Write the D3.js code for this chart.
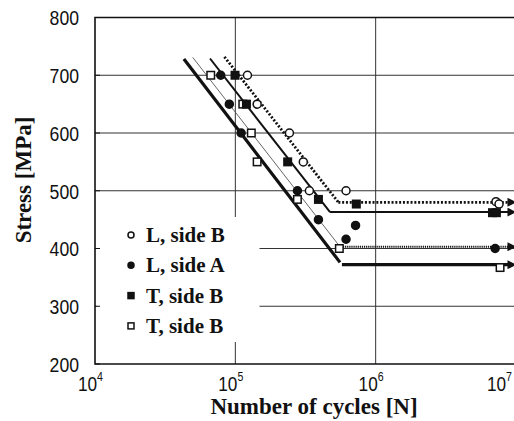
<html>
<head>
  <script src="https://d3js.org/d3.v7.min.js"></script>
  <style>
    body { margin: 0; background: white; }
    .tick-label { font-family: "Liberation Sans", Arial, sans-serif; font-size: 21px; fill: #111; }
    .axis-title { font-family: "Liberation Serif", "Times New Roman", serif; font-size: 23px; font-weight: bold; fill: #111; }
    .legend-text { font-family: "Liberation Serif", "Times New Roman", serif; font-size: 21px; font-weight: bold; fill: #111; }
  </style>
</head>
<body>
  <svg id="chart" width="514" height="421"></svg>
  <script>
    // series names (legend, as printed in the figure)
    const seriesNames = ["L, side B", "L, side A", "T, side B", "T, side B"];
    const seriesMarks = ["openCircle", "filledCircle", "filledSquare", "openSquare"];

    // measured points: number of cycles and stress [MPa]
    const lsbN = [1.22e5, 1.43e5, 2.43e5, 3.05e5, 3.37e5, 6.15e5, 7.2e6, 7.57e6];
    const lsbS = [700, 650, 600, 550, 500, 500, 481, 477];
    const lsaN = [7.87e4, 9.06e4, 1.1e5, 2.77e5, 3.91e5, 7.19e5, 6.15e5, 7.1e6];
    const lsaS = [700, 650, 600, 500, 450, 440, 416, 400];
    const tsbFilledN = [9.95e4, 1.2e5, 2.36e5, 3.91e5, 7.28e5, 6.8e6, 7.25e6];
    const tsbFilledS = [700, 650, 550, 485, 477, 462, 462];
    const tsbOpenN = [6.68e4, 1.13e5, 1.3e5, 1.43e5, 2.77e5, 5.51e5, 7.7e6];
    const tsbOpenS = [700, 650, 600, 550, 485, 400, 367];

    // S-N fit lines: sloped part start, knee, and fatigue limit (run-out to the right)
    const fitStartN = [8.36e4, 6.6e4, 4.97e4, 4.3e4];
    const fitStartS = [732, 729, 731, 728];
    const kneeN = [5.42e5, 4.73e5, 5.57e5, 5.57e5];
    const kneeS = [480, 463, 403, 376];
    const limitStartN = [5.42e5, 4.73e5, 5.65e5, 5.75e5];
    const limitS = [480, 463, 403, 372];
    const runoutN = 9.0e6;

    // axes
    const xTicks = [1e4, 1e5, 1e6, 1e7];
    const xExps = ["4", "5", "6", "7"];
    const yTicks = [200, 300, 400, 500, 600, 700, 800];

    const svg = d3.select("#chart");
    const x = d3.scaleLog().domain([1e4, 1e7]).range([95, 516]);
    const y = d3.scaleLinear().domain([200, 800]).range([364, 17.5]);

    // arrow head for run-out lines
    svg.append("defs").append("marker")
      .attr("id", "arrow")
      .attr("viewBox", "0 0 10 10")
      .attr("refX", 9).attr("refY", 5)
      .attr("markerUnits", "userSpaceOnUse")
      .attr("markerWidth", 9).attr("markerHeight", 9)
      .attr("orient", "auto")
      .append("path")
      .attr("d", "M0,0 L10,5 L0,10 Z")
      .attr("fill", "#111");

    // grid
    const grid = svg.append("g");
    grid.selectAll("line.h")
      .data(yTicks.filter(d => d > 200 && d < 800))
      .enter().append("line")
      .attr("x1", x(1e4)).attr("x2", 514)
      .attr("y1", d => y(d)).attr("y2", d => y(d))
      .attr("stroke", "#333").attr("stroke-width", 1);
    grid.selectAll("line.v")
      .data([1e5, 1e6])
      .enter().append("line")
      .attr("x1", d => x(d)).attr("x2", d => x(d))
      .attr("y1", y(800)).attr("y2", y(200))
      .attr("stroke", "#333").attr("stroke-width", 1);

    // frame
    svg.append("path")
      .attr("d", `M514,${y(800)} H${x(1e4)} V${y(200)} H514`)
      .attr("fill", "none").attr("stroke", "#111").attr("stroke-width", 1.6);

    // legend box (white, hides grid)
    svg.append("rect")
      .attr("x", x(1e4) + 1.5).attr("y", 217)
      .attr("width", 163).attr("height", 125)
      .attr("fill", "white");

    // inward ticks on the y axis
    svg.selectAll("line.ytick")
      .data(yTicks)
      .enter().append("line")
      .attr("x1", x(1e4)).attr("x2", x(1e4) + 5)
      .attr("y1", d => y(d)).attr("y2", d => y(d))
      .attr("stroke", "#111").attr("stroke-width", 1);

    // fit lines
    const lineStyles = [
      { slope: { w: 2.8, dash: "2,1.8", col: "#111" }, flat: { w: 2.8, dash: "2,1.8" } },
      { slope: { w: 2, dash: null, col: "#111" }, flat: { w: 2, dash: null } },
      { slope: { w: 0.9, dash: null, col: "#555" }, flat: { w: 2.2, dash: "1.2,0.9" } },
      { slope: { w: 3.2, dash: null, col: "#111" }, flat: { w: 3.2, dash: null } }
    ];
    const fits = svg.append("g");
    fitStartN.forEach((n, i) => {
      fits.append("line")
        .attr("x1", x(n)).attr("y1", y(fitStartS[i]))
        .attr("x2", x(kneeN[i])).attr("y2", y(kneeS[i]))
        .attr("stroke", lineStyles[i].slope.col)
        .attr("stroke-width", lineStyles[i].slope.w)
        .attr("stroke-dasharray", lineStyles[i].slope.dash);
      fits.append("line")
        .attr("x1", x(limitStartN[i])).attr("y1", y(limitS[i]))
        .attr("x2", x(runoutN)).attr("y2", y(limitS[i]))
        .attr("stroke", "#111")
        .attr("stroke-width", lineStyles[i].flat.w)
        .attr("stroke-dasharray", lineStyles[i].flat.dash);
      fits.append("line")
        .attr("x1", x(runoutN) - 2).attr("y1", y(limitS[i]))
        .attr("x2", x(runoutN) + 6).attr("y2", y(limitS[i]))
        .attr("stroke", "#111").attr("stroke-width", 1.5)
        .attr("marker-end", "url(#arrow)");
    });

    // markers
    function drawMark(g, kind, cx, cy, size) {
      const open = kind.startsWith("open");
      if (kind.endsWith("Circle")) {
        g.append("circle").attr("cx", cx).attr("cy", cy).attr("r", size / 2)
          .attr("fill", open ? "white" : "#111")
          .attr("stroke", "#111").attr("stroke-width", 1.5);
      } else {
        g.append("rect").attr("x", cx - size / 2).attr("y", cy - size / 2)
          .attr("width", size).attr("height", size)
          .attr("fill", open ? "white" : "#111")
          .attr("stroke", "#111").attr("stroke-width", 1.5);
      }
    }
    const seriesN = [lsbN, lsaN, tsbFilledN, tsbOpenN];
    const seriesS = [lsbS, lsaS, tsbFilledS, tsbOpenS];
    const pts = svg.append("g");
    [3, 2, 1, 0].forEach(i => {
      seriesN[i].forEach((n, j) => {
        drawMark(pts, seriesMarks[i], x(n), y(seriesS[i][j]), seriesMarks[i].endsWith("Circle") ? 8 : 7.5);
      });
    });

    // legend
    const legend = svg.append("g");
    seriesNames.forEach((name, i) => {
      const ly = 235 + i * 30.3;
      drawMark(legend, seriesMarks[i], 131, ly, 6);
      legend.append("text").attr("class", "legend-text")
        .attr("x", 146).attr("y", ly + 7).text(name);
    });

    // y tick labels
    svg.selectAll("text.ylab")
      .data(yTicks)
      .enter().append("text")
      .attr("class", "tick-label")
      .attr("text-anchor", "end")
      .attr("transform", d => `translate(79,${y(d) + 7.8}) scale(0.84,1)`)
      .text(d => d);

    // x tick labels (powers of ten)
    xTicks.forEach((t, i) => {
      const ex = Math.min(x(t) + 8, 512);
      const lab = svg.append("text")
        .attr("class", "tick-label")
        .attr("text-anchor", "end")
        .attr("transform", `translate(${ex},391) scale(0.82,1)`);
      lab.append("tspan").text("10");
      lab.append("tspan").attr("dy", -10).attr("font-size", 13).text(xExps[i]);
    });

    // axis titles
    svg.append("text").attr("class", "axis-title")
      .attr("text-anchor", "middle")
      .attr("x", 314).attr("y", 414)
      .text("Number of cycles [N]");
    svg.append("text").attr("class", "axis-title")
      .attr("text-anchor", "middle")
      .attr("transform", "translate(31,180) rotate(-90)")
      .text("Stress [MPa]");
  </script>
</body>
</html>
